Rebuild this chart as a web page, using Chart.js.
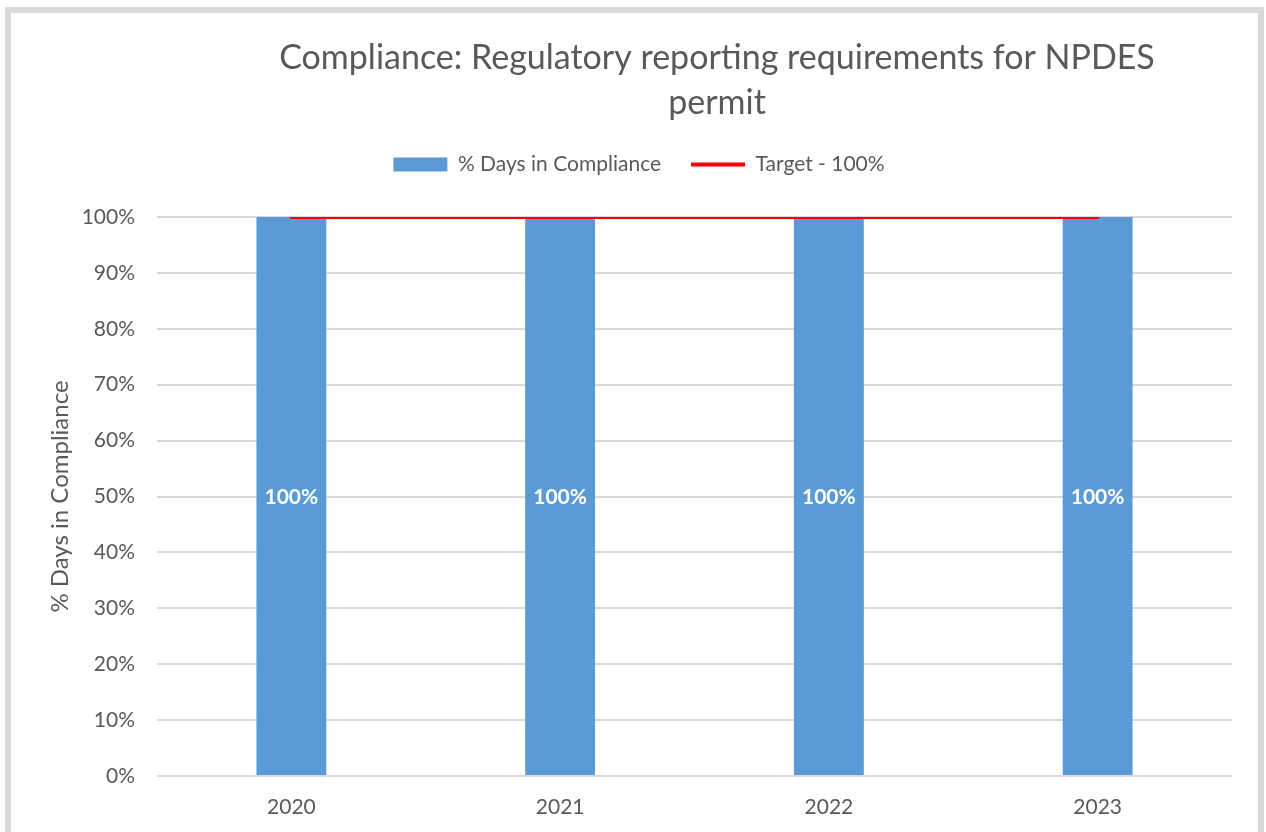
<!DOCTYPE html>
<html>
<head>
<meta charset="utf-8">
<script src="https://cdn.jsdelivr.net/npm/chart.js@4.4.0/dist/chart.umd.min.js"></script>
<style>
    body { margin: 0; background: #fff; overflow: hidden; }
    #frame {
        position: absolute; left: 5px; top: 7px; width: 1259px; height: 900px;
        border: 6px solid #d9d9d9; box-sizing: border-box;
    }
    #chart { position: absolute; left: 0; top: 0; }
</style>
</head>
<body>
<div id="frame"></div>
<canvas id="chart" width="1266" height="832"></canvas>
<script>
const years = ["2020", "2021", "2022", "2023"];
const daysInCompliance = [100, 100, 100, 100];
const target = [100, 100, 100, 100];
const titleLines = ["Compliance: Regulatory reporting requirements for NPDES", "permit"];

const FONT = "Lato, 'Open Sans', sans-serif";
const GREY = "#595959";

// Title drawn centred over the plot like the original
const titlePlugin = {
    id: "titleAt",
    afterDraw(chart) {
        const ctx = chart.ctx;
        ctx.save();
        ctx.fillStyle = GREY;
        ctx.font = "34px " + FONT;
        ctx.textAlign = "center";
        ctx.textBaseline = "middle";
        titleLines.forEach((line, i) => ctx.fillText(line, 717, 58 + i * 45));
        ctx.restore();
    }
};

// extra space below the legend
const legendGap = {
    id: "legendGap",
    beforeInit(chart) {
        const fit = chart.legend.fit;
        chart.legend.fit = function () {
            fit.bind(chart.legend)();
            this.height += 32;
        };
    }
};

// White value labels in the middle of each bar
const barLabels = {
    id: "barLabels",
    afterDatasetsDraw(chart) {
        const ctx = chart.ctx;
        const meta = chart.getDatasetMeta(0);
        ctx.save();
        ctx.fillStyle = "#ffffff";
        ctx.font = "bold 21px " + FONT;
        ctx.textAlign = "center";
        ctx.textBaseline = "middle";
        meta.data.forEach((bar, i) => {
            ctx.fillText(daysInCompliance[i] + "%", bar.x, (bar.y + bar.base) / 2 + 1);
        });
        ctx.restore();
    }
};

new Chart(document.getElementById("chart"), {
    type: "bar",
    data: {
        labels: years,
        datasets: [{
            label: "% Days in Compliance",
            data: daysInCompliance,
            backgroundColor: "#5b9bd5",
            borderWidth: 0,
            barPercentage: 1,
            categoryPercentage: 0.26,
            pointStyle: "rect",
            order: 1
        }, {
            type: "line",
            label: "Target - 100%",
            data: target,
            borderColor: "#ff0000",
            backgroundColor: "#ff0000",
            borderWidth: 4,
            borderCapStyle: "round",
            pointRadius: 0,
            pointStyle: "line",
            order: 0
        }]
    },
    options: {
        responsive: false,
        animation: false,
        layout: { padding: { top: 124, left: 46, right: 34, bottom: 0 } },
        plugins: {
            tooltip: { enabled: false },
            legend: {
                position: "top",
                labels: {
                    color: GREY,
                    font: { family: FONT, size: 21 },
                    usePointStyle: true,
                    pointStyleWidth: 54,
                    boxHeight: 14,
                    padding: 30,
                    sort: (a, b) => a.datasetIndex - b.datasetIndex
                }
            }
        },
        scales: {
            x: {
                grid: { display: false },
                border: { display: false },
                ticks: { color: GREY, font: { family: FONT, size: 21 }, padding: 11 },
                afterFit: scale => { scale.height = 56; }
            },
            y: {
                min: 0,
                max: 100,
                ticks: {
                    stepSize: 10,
                    color: GREY,
                    font: { family: FONT, size: 21 },
                    padding: 22,
                    callback: v => v + "%"
                },
                grid: { color: "#d9d9d9", lineWidth: 2, drawTicks: false },
                border: { display: false },
                title: {
                    display: true,
                    text: "% Days in Compliance",
                    color: GREY,
                    font: { family: FONT, size: 24 },
                    padding: { top: 0, bottom: 0 }
                },
                afterFit: scale => { scale.width = 111; }
            }
        }
    },
    plugins: [titlePlugin, legendGap, barLabels]
});
</script>
</body>
</html>
